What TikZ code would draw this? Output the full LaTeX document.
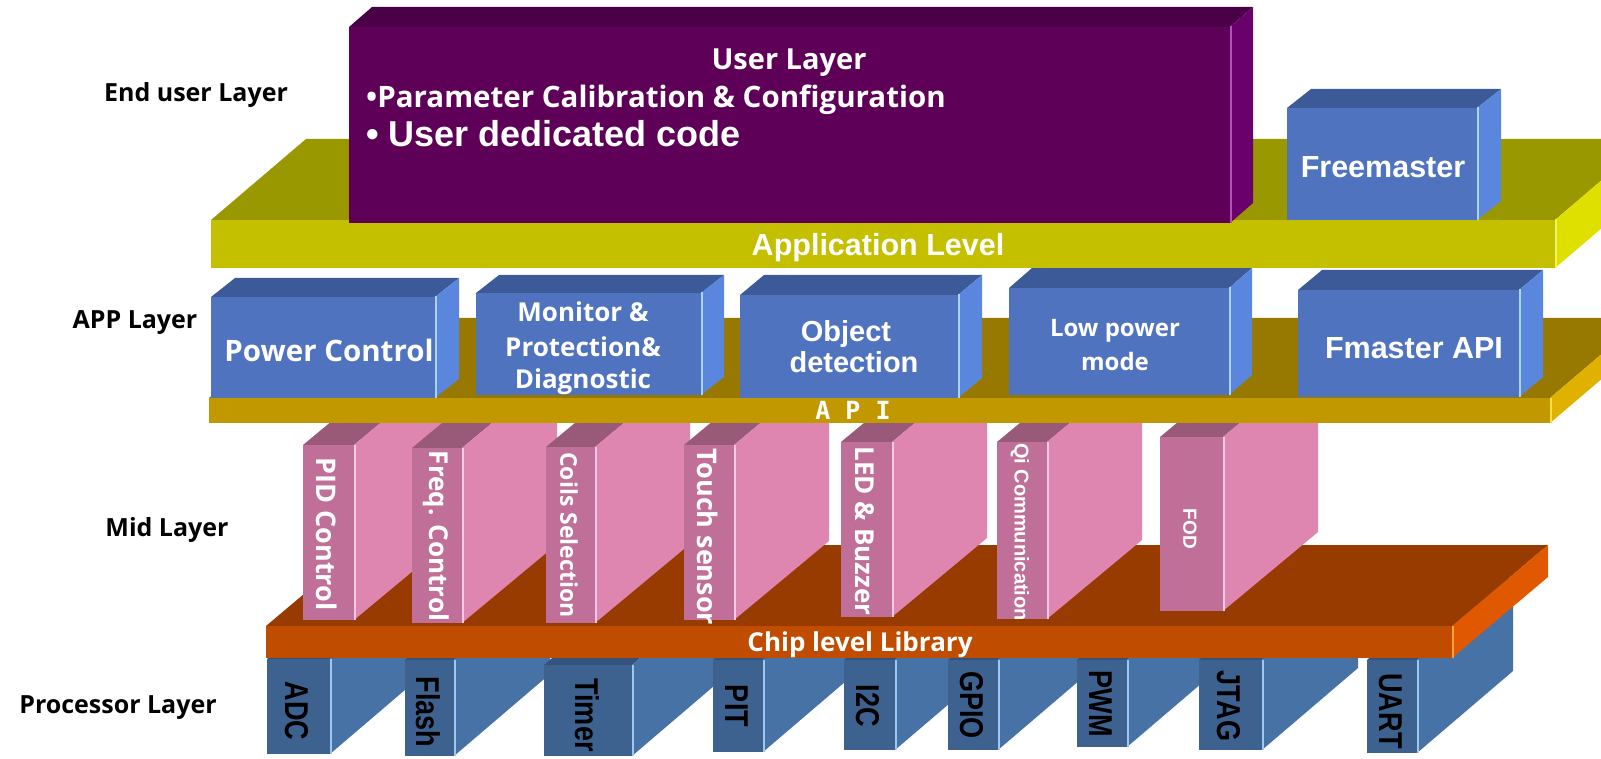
\documentclass[tikz,border=0pt]{standalone}
\usepackage{fontspec}
\usepackage{graphicx}
\setmainfont{Open Sans}
\newfontfamily\arialf{Liberation Sans}
\newfontfamily\monof{DejaVu Sans Mono}
\definecolor{purF}{HTML}{5E0058}\definecolor{purT}{HTML}{4A0047}\definecolor{purS}{HTML}{6A006C}\definecolor{purH}{HTML}{B050B8}
\definecolor{bluF}{HTML}{4F73BE}\definecolor{bluT}{HTML}{3C5A97}\definecolor{bluS}{HTML}{5A86DD}\definecolor{bluH}{HTML}{AAD4F4}
\definecolor{pnkF}{HTML}{C07098}\definecolor{pnkT}{HTML}{985A78}\definecolor{pnkS}{HTML}{DE85B0}\definecolor{pnkH}{HTML}{F8C8E8}
\definecolor{stlF}{HTML}{3E6290}\definecolor{stlT}{HTML}{34527C}\definecolor{stlS}{HTML}{4672A6}\definecolor{stlH}{HTML}{9CC8F0}
\definecolor{aplF}{HTML}{C4C000}\definecolor{aplT}{HTML}{999800}\definecolor{aplS}{HTML}{E0E000}\definecolor{aplH}{HTML}{F0F060}
\definecolor{apiF}{HTML}{C19800}\definecolor{apiT}{HTML}{977800}\definecolor{apiS}{HTML}{E1B100}\definecolor{apiH}{HTML}{F8E040}
\definecolor{chpF}{HTML}{C04C00}\definecolor{chpT}{HTML}{983B00}\definecolor{chpS}{HTML}{E05800}\definecolor{chpH}{HTML}{F8A040}
% front: x1,y1(top),x2,y2(bottom); depth dx,dy; colour family
\newcommand{\drawcuboid}[7]{%
  \fill[#7T] (#1,#2) -- (#1+#5,#2-#6) -- (#3+#5,#2-#6) -- (#3,#2) -- cycle;
  \fill[#7S] (#3,#2) -- (#3+#5,#2-#6) -- (#3+#5,#4-#6) -- (#3,#4) -- cycle;
  \fill[#7F] (#1,#2) rectangle (#3,#4);
  \draw[#7H, line width=1.6pt] (#3+0.8,#2-0.5) -- (#3+0.8,#4);
}
\newcommand{\fsz}[1]{\fontsize{#1}{#1}\selectfont}
\tikzset{
  lab/.style={font=\bfseries\fsz{25}, text=black, inner sep=0pt},
  wt/.style={text=white, inner sep=0pt, align=center},
  vt/.style={text=white, inner sep=0pt, rotate=-90},
  pt/.style={text=black, inner sep=0pt, rotate=-90, font=\arialf\bfseries\fsz{33}},
}
\begin{document}
\begin{tikzpicture}[x=1pt,y=-1pt]
\useasboundingbox (0,0) rectangle (1601,759);
% ---------- processor boxes ----------
\drawcuboid{267}{659}{330}{754}{96}{82}{stl}
\drawcuboid{405}{660}{454}{756}{96}{82}{stl}
\drawcuboid{544}{665}{632}{756}{96}{82}{stl}
\drawcuboid{713}{660}{763}{752}{96}{82}{stl}
\drawcuboid{844}{660}{895}{750}{96}{82}{stl}
\drawcuboid{948}{660}{998}{750}{96}{82}{stl}
\drawcuboid{1077}{660}{1127}{747}{96}{82}{stl}
\drawcuboid{1199}{660}{1262}{750}{96}{82}{stl}
\drawcuboid{1367}{660}{1417}{753}{96}{82}{stl}
% ---------- chip level slab ----------
\drawcuboid{266}{626}{1452}{658}{96}{81}{chp}
% ---------- mid boxes ----------
\drawcuboid{303}{445}{354}{620}{95}{79}{pnk}
\drawcuboid{412}{448}{462}{623}{95}{79}{pnk}
\drawcuboid{546}{447}{595}{623}{95}{79}{pnk}
\drawcuboid{684}{445}{734}{620}{95}{79}{pnk}
\drawcuboid{841}{442}{892}{617}{95}{79}{pnk}
\drawcuboid{997}{442}{1047}{619}{95}{79}{pnk}
\drawcuboid{1160}{437}{1223}{611}{95}{79}{pnk}
% ---------- API slab ----------
\drawcuboid{209}{398}{1550}{423}{94}{80}{api}
% ---------- APP boxes ----------
\drawcuboid{211}{297}{435}{398}{24}{19}{blu}
\drawcuboid{476}{293}{701}{395}{23}{18}{blu}
\drawcuboid{740}{295}{958}{398}{24}{20}{blu}
\drawcuboid{1009}{288}{1229}{395}{23}{20}{blu}
\drawcuboid{1298}{290}{1519}{397}{24}{20}{blu}
% ---------- application slab ----------
\drawcuboid{211}{220}{1555}{268}{95}{81}{apl}
% ---------- user layer & freemaster ----------
\drawcuboid{349}{27}{1230}{223}{23}{20}{pur}
\drawcuboid{1287}{108}{1477}{220}{24}{19}{blu}

% ---------- left labels ----------
\node[lab] (lEnd) at (196,95) {End user Layer};
\node[lab] (lApp) at (135,323) {APP Layer};
\node[lab] (lMid) at (167,530) {Mid Layer};
\node[lab] (lProc) at (118,708) {Processor Layer};

% ---------- user layer text ----------
\node[wt, font=\bfseries\fsz{29}] (uTitle) at (789,63) {User Layer};
\node[wt, anchor=west, font=\bfseries\fsz{29.5}] (uPar) at (366,100) {•Parameter Calibration \& Configuration};
\node[wt, anchor=west, font=\arialf\bfseries\fsz{36}] (uCode) at (366,134) {• User dedicated code};
\node[wt, font=\arialf\bfseries\fsz{30.5}] (tFree) at (1383,167) {Freemaster};
\node[wt, font=\arialf\bfseries\fsz{30.5}] (tAppl) at (878,248) {Application Level};

% ---------- APP box text ----------
\node[wt, font=\bfseries\fsz{29.5}] (tPow) at (329,350) {Power Control};
\node[wt, font=\bfseries\fsz{26}] (tMon1) at (583,312) {Monitor \&};
\node[wt, font=\bfseries\fsz{26}] (tMon2) at (583,347) {Protection\&};
\node[wt, font=\bfseries\fsz{26}] (tMon3) at (583,382) {Diagnostic};
\node[wt, font=\arialf\bfseries\fsz{29}] (tObj1) at (846,334) {Object};
\node[wt, font=\arialf\bfseries\fsz{29}] (tObj2) at (854,362) {detection};
\node[wt, font=\bfseries\fsz{24}] (tLow1) at (1115,331) {Low power};
\node[wt, font=\bfseries\fsz{24}] (tLow2) at (1115,361) {mode};
\node[wt, font=\arialf\bfseries\fsz{30.5}] (tFapi) at (1414,348) {Fmaster API};
\node[wt, font=\monof\bfseries\fsz{25}] (tApi) at (853,410) {A P I};

% ---------- mid box text ----------
\node[vt, font=\bfseries\fsz{27}] (mPid) at (327,534) {PID Control};
\node[vt, font=\bfseries\fsz{26}] (mFrq) at (436,536) {Freq. Control};
\node[vt, font=\bfseries\fsz{23}] (mCoi) at (569,535) {Coils Selection};
\node[vt, font=\bfseries\fsz{27}] (mTou) at (708,537) {Touch sensor};
\node[vt, font=\bfseries\fsz{26}] (mLed) at (865,531) {LED \& Buzzer};
\node[vt, font=\arialf\bfseries\fsz{20}] (mQi) at (1020,532) {Qi Communication};
\node[vt, font=\arialf\bfseries\fsz{19}] (mFod) at (1190,529) {FOD};

% ---------- chip text ----------
\node[wt, font=\bfseries\fsz{26}] (tChip) at (860,645) {Chip level Library};

% ---------- processor text ----------
\node[pt] (pAdc) at (297,711) {\scalebox{0.82}[1]{ADC}};
\node[pt] (pFla) at (428,712) {\scalebox{0.82}[1]{Flash}};
\node[pt] (pTim) at (587,715) {\scalebox{0.82}[1]{Timer}};
\node[pt] (pPit) at (737,706) {\scalebox{0.82}[1]{PIT}};
\node[pt] (pI2c) at (868,706) {\scalebox{0.82}[1]{I2C}};
\node[pt] (pGpi) at (972,705) {\scalebox{0.82}[1]{GPIO}};
\node[pt] (pPwm) at (1101,704) {\scalebox{0.82}[1]{PWM}};
\node[pt] (pJta) at (1229,706) {\scalebox{0.82}[1]{JTAG}};
\node[pt] (pUar) at (1391,711) {\scalebox{0.82}[1]{UART}};
\end{tikzpicture}
\end{document}
